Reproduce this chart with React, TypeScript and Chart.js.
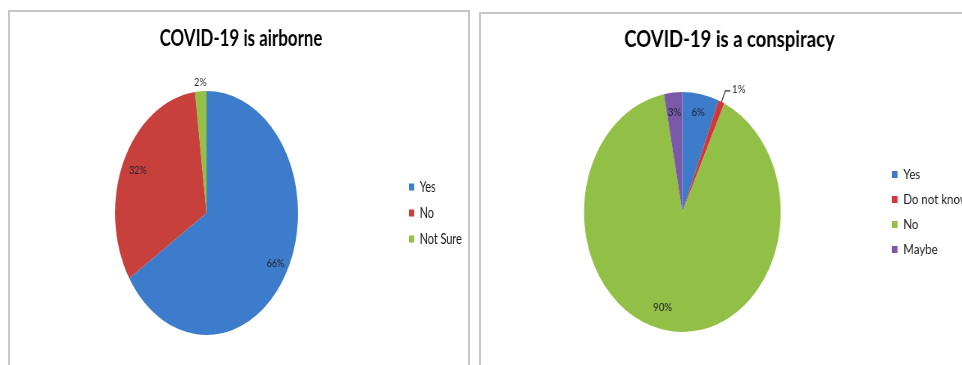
import React, { useEffect, useRef } from 'react';
import { Chart, registerables } from 'chart.js';

Chart.register(...registerables);

// ---- Data ----
const airborneTitle = 'COVID-19 is airborne';
const airborneLabels = ['Yes', 'No', 'Not Sure'];
const airborneValues = [66, 32, 2];
const airborneColors = ['#3D7BCB', '#C8403C', '#92BF45'];

const conspiracyTitle = 'COVID-19 is a conspiracy';
const conspiracyLabels = ['Yes', 'Do not know', 'No', 'Maybe'];
const conspiracyValues = [6, 1, 90, 3];
const conspiracyColors = ['#3D7BCB', '#D2363A', '#92BF45', '#7A5AA8'];

// ---- Label placement (style, not data) ----
type Placement = { r: number; dAngle?: number; leader?: boolean };

const airbornePlacement: Placement[] = [{ r: 0.86 }, { r: 0.83 }, { r: 1.075 }];
const conspiracyPlacement: Placement[] = [
  { r: 0.85 },
  { r: 1.1, leader: true },
  { r: 0.82, dAngle: 7 },
  { r: 0.84 },
];

const pieLabelPlugin = {
  id: 'pieLabels',
  afterDatasetsDraw(chart: any, _args: any, opts: any) {
    const ctx = chart.ctx as CanvasRenderingContext2D;
    const meta = chart.getDatasetMeta(0);
    const ds = chart.data.datasets[0];
    const placement: Placement[] = opts.placement || [];
    ctx.save();
    ctx.font = opts.font;
    ctx.fillStyle = opts.color;
    ctx.strokeStyle = opts.lineColor;
    ctx.lineWidth = 1.2;
    meta.data.forEach((arc: any, i: number) => {
      const p = placement[i] || { r: 0.8 };
      const { x, y, startAngle, endAngle, outerRadius } = arc.getProps(
        ['x', 'y', 'startAngle', 'endAngle', 'outerRadius'],
        true
      );
      const mid = (startAngle + endAngle) / 2 + ((p.dAngle || 0) * Math.PI) / 180;
      const text = ds.data[i] + '%';
      if (p.leader) {
        const x0 = x + Math.cos(mid) * outerRadius;
        const y0 = y + Math.sin(mid) * outerRadius;
        const x1 = x + Math.cos(mid) * outerRadius * p.r;
        const y1 = y + Math.sin(mid) * outerRadius * p.r;
        ctx.beginPath();
        ctx.moveTo(x0, y0);
        ctx.lineTo(x1, y1);
        ctx.lineTo(x1 + 6, y1);
        ctx.stroke();
        ctx.textAlign = 'left';
        ctx.textBaseline = 'middle';
        ctx.fillText(text, x1 + 8, y1 - 2);
      } else {
        ctx.textAlign = 'center';
        ctx.textBaseline = 'middle';
        ctx.fillText(
          text,
          x + Math.cos(mid) * outerRadius * p.r,
          y + Math.sin(mid) * outerRadius * p.r
        );
      }
    });
    ctx.restore();
  },
};

type PieProps = {
  title: string;
  labels: string[];
  values: number[];
  colors: string[];
  placement: Placement[];
  sx: number;
  width: number;
  height: number;
  pad: { left: number; right: number; bottom: number };
  titlePad: { top: number; bottom: number };
  legendPad: number;
  legendFont: number;
};

function PieChart(props: PieProps) {
  const ref = useRef<HTMLCanvasElement | null>(null);
  useEffect(() => {
    if (!ref.current) return;
    const chart = new Chart(ref.current, {
      type: 'pie',
      data: {
        labels: props.labels,
        datasets: [
          {
            data: props.values,
            backgroundColor: props.colors,
            borderWidth: 0,
          },
        ],
      },
      options: {
        responsive: false,
        animation: false,
        layout: {
          padding: { left: props.pad.left, right: props.pad.right, top: 0, bottom: props.pad.bottom },
        },
        plugins: {
          title: {
            display: true,
            text: props.title,
            color: '#000000',
            font: { family: 'Lato', size: 22.5, weight: 'bold' },
            padding: props.titlePad,
          },
          legend: {
            position: 'right',
            fullSize: false,
            labels: {
              boxWidth: 7,
              boxHeight: 7,
              padding: props.legendPad,
              color: '#1a1a1a',
              font: { family: 'Lato', size: props.legendFont },
            },
          },
          tooltip: { enabled: false },
          // @ts-ignore
          pieLabels: {
            placement: props.placement,
            font: '12px Lato',
            color: '#1f2430',
            lineColor: '#333333',
          },
        },
      } as any,
      plugins: [pieLabelPlugin],
    });
    return () => chart.destroy();
  }, []);
  return (
    <div
      style={{
        width: props.width,
        height: props.height,
        transform: `scaleX(${props.sx})`,
        transformOrigin: '0 0',
      }}
    >
      <canvas ref={ref} width={props.width} height={props.height} style={{ display: 'block' }} />
    </div>
  );
}

export default function App() {
  return (
    <div
      style={{
        position: 'fixed',
        left: 0,
        top: 0,
        width: 962,
        height: 365,
        overflow: 'hidden',
        background: '#ffffff',
      }}
    >
      <div
        style={{
          position: 'absolute',
          left: 8,
          top: 10,
          width: 462,
          height: 400,
          border: '2px solid #c6c6c6',
          boxSizing: 'border-box',
          overflow: 'hidden',
        }}
      >
        <PieChart
          title={airborneTitle}
          labels={airborneLabels}
          values={airborneValues}
          colors={airborneColors}
          placement={airbornePlacement}
          sx={0.75}
          width={620}
          height={353}
          pad={{ left: 3.6, right: 7.5, bottom: 30 }}
          titlePad={{ top: 13.5, bottom: 38.5 }}
          legendPad={11.5}
          legendFont={14.5}
        />
      </div>
      <div
        style={{
          position: 'absolute',
          left: 479,
          top: 12,
          width: 520,
          height: 400,
          border: '2px solid #c6c6c6',
          boxSizing: 'border-box',
          overflow: 'hidden',
        }}
      >
        <PieChart
          title={conspiracyTitle}
          labels={conspiracyLabels}
          values={conspiracyValues}
          colors={conspiracyColors}
          placement={conspiracyPlacement}
          sx={0.82}
          width={640}
          height={351}
          pad={{ left: 1.2, right: 35, bottom: 33 }}
          titlePad={{ top: 12.5, bottom: 38.5 }}
          legendPad={11}
          legendFont={14}
        />
      </div>
    </div>
  );
}
